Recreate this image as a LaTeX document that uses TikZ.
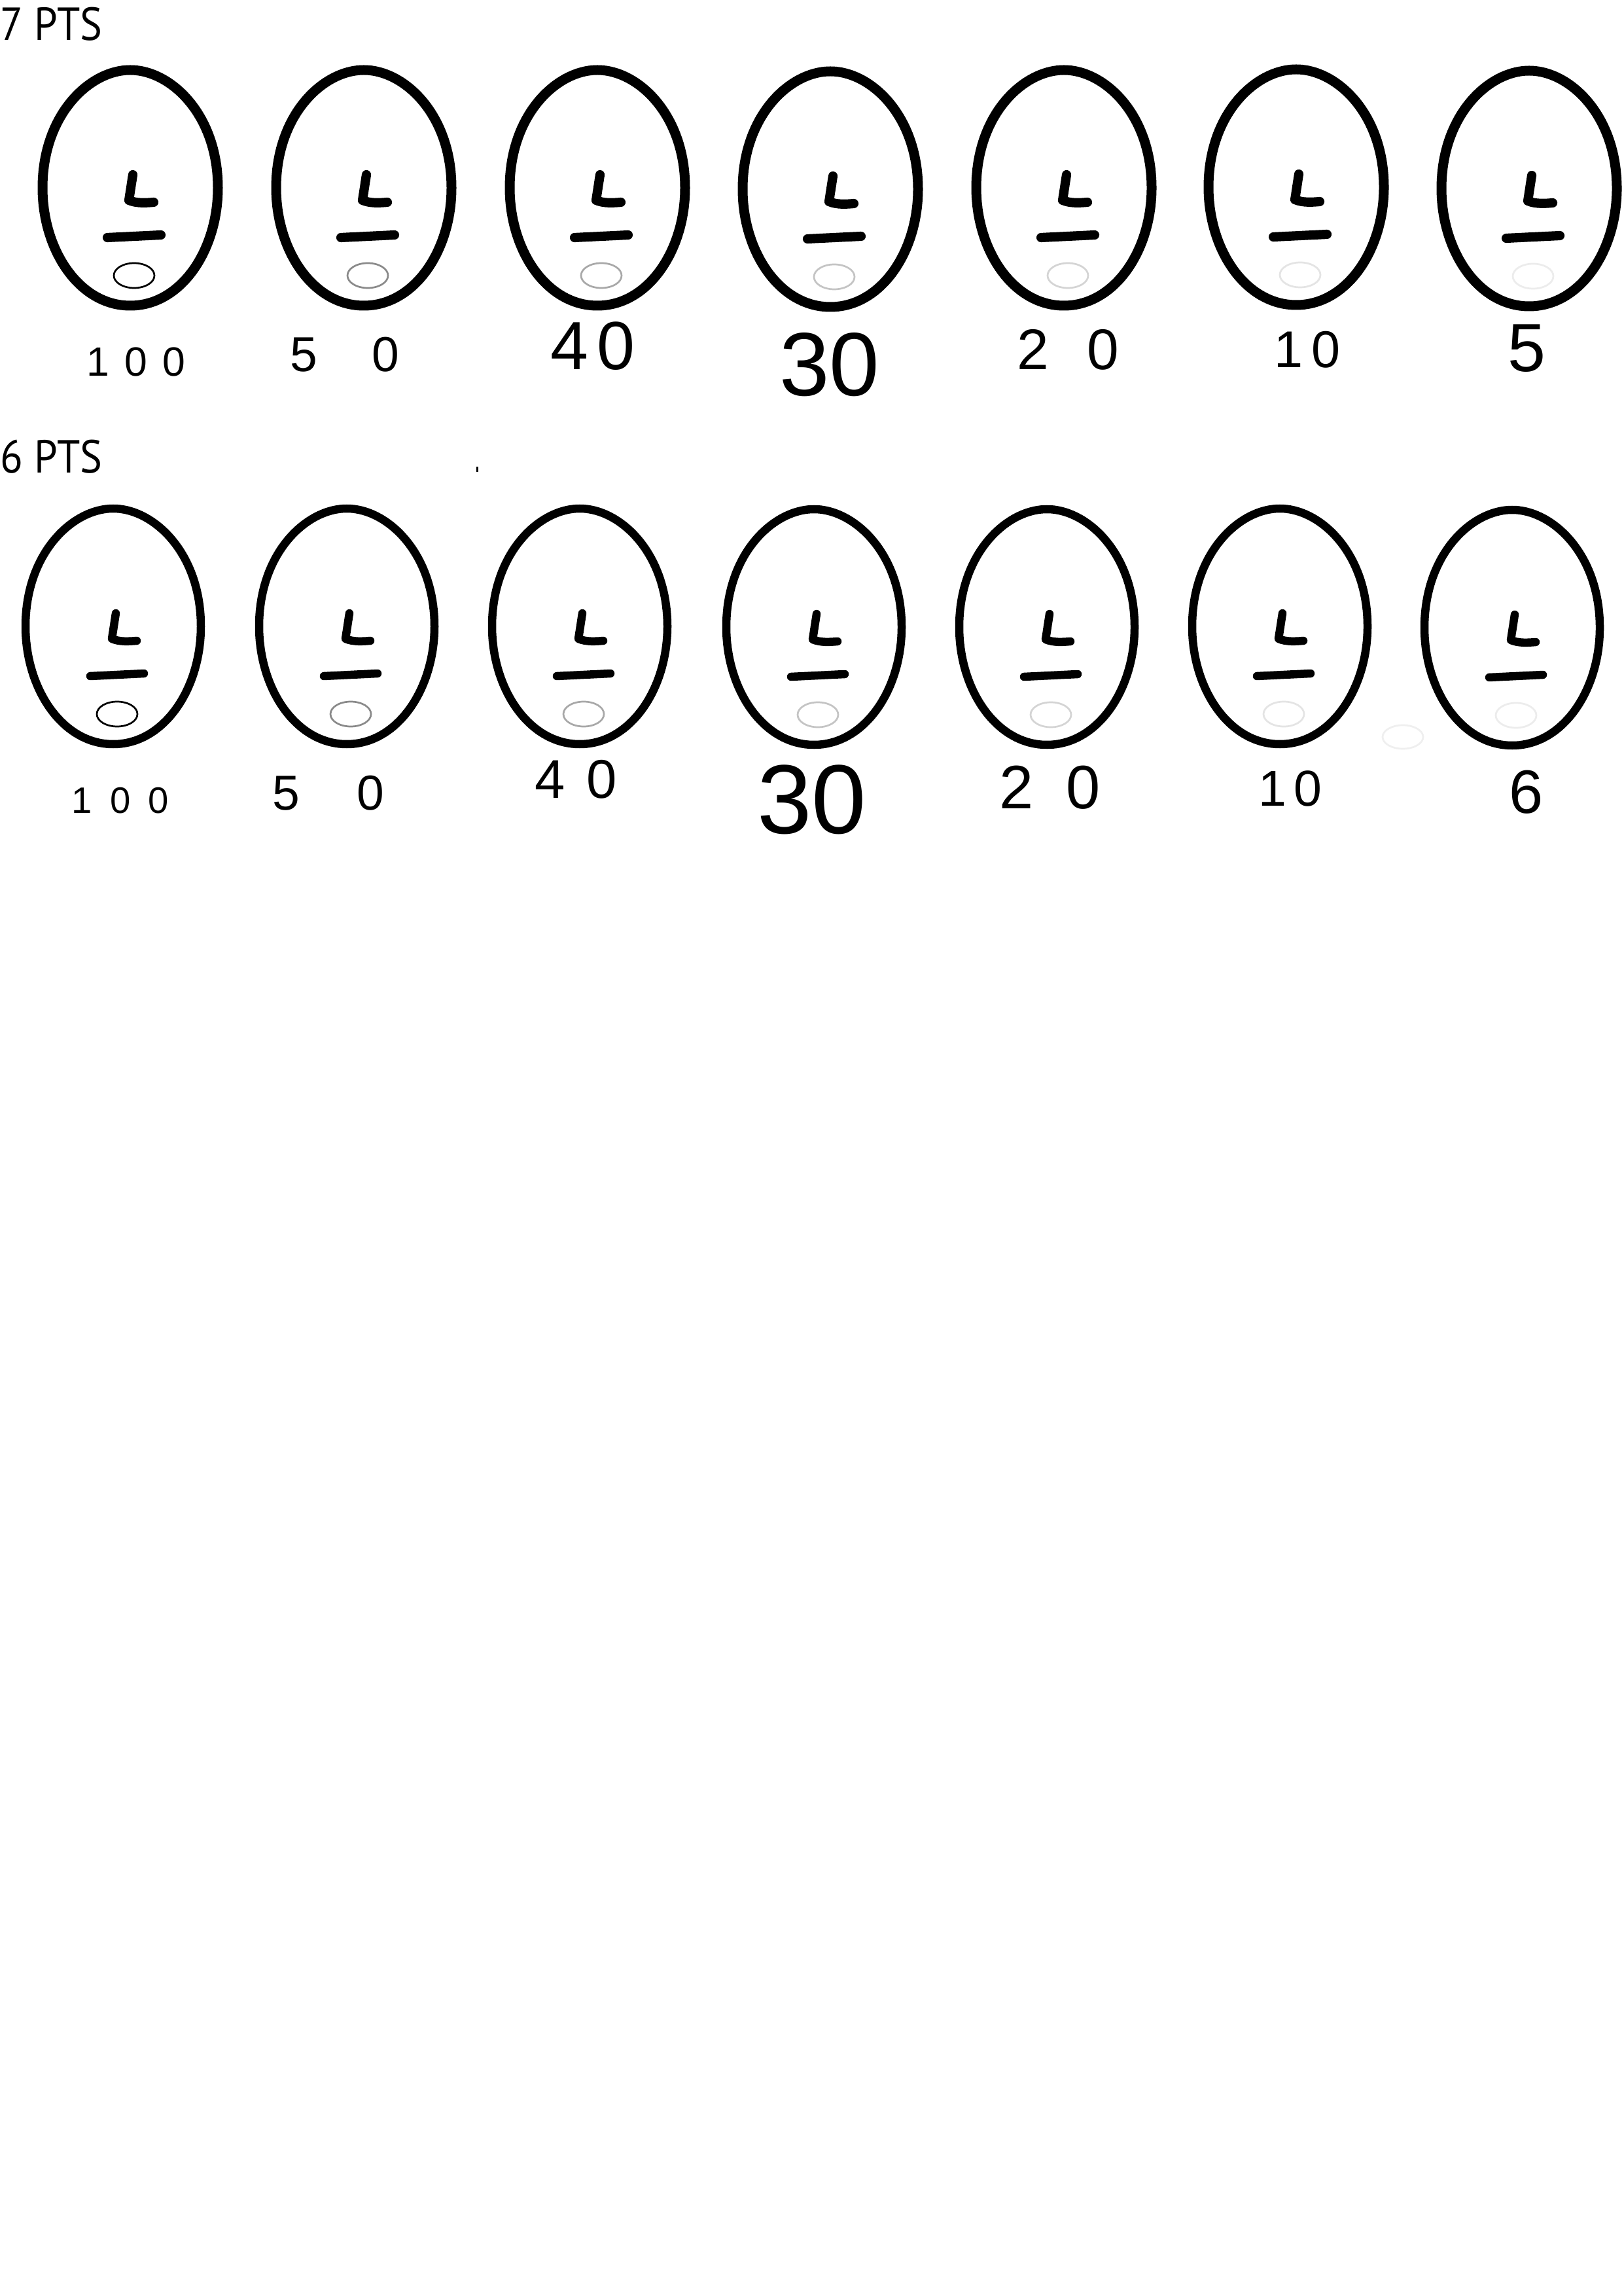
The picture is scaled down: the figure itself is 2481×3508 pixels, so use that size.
\documentclass[tikz,border=0pt]{standalone}
\usepackage{fontspec}
\setmainfont{PT Sans}
\newfontfamily\handfont{Liberation Sans}
\newcommand{\hw}[2]{{\handfont\fontsize{#1}{#1}\selectfont #2}}
\newcommand{\eggface}[5]{%
  \begin{scope}[shift={(#1,#2)}]
    \draw[line width=#3] (134,0) .. controls (134,-112) and (62,-180) .. (0,-180)
       .. controls (-62,-180) and (-134,-112) .. (-134,0)
       .. controls (-134,95) and (-78,180) .. (0,180)
       .. controls (78,180) and (134,95) .. (134,0) -- cycle;
    \draw[line width=#4, line cap=round, line join=round] (4,-20) -- (-2,19) .. controls (10,24) and (24,23) .. (36,22);
    \draw[line width=#4, line cap=round] (-35,76) -- (47,72);
    \draw[#5, line width=0.65pt] (6,134) ellipse [x radius=31, y radius=19];
  \end{scope}}
\definecolor{m50}{HTML}{8A8A8A}
\definecolor{m40}{HTML}{A8A8A8}
\definecolor{m30}{HTML}{C4C4C4}
\definecolor{m20}{HTML}{D4D4D4}
\definecolor{m10}{HTML}{E4E4E4}
\definecolor{m5}{HTML}{ECECEC}
\definecolor{mx}{HTML}{EFEFEF}
\begin{document}
\begin{tikzpicture}[x=0.24pt, y=-0.24pt,
  lbl/.style={inner sep=0pt, anchor=center},
  head/.style={inner sep=0pt, anchor=base west, font=\fontsize{17pt}{17pt}\selectfont}]
\fill[white] (0,0) rectangle (2481,3508);
\useasboundingbox (0,0) rectangle (2481,3508);

% headings
\node[head] (h7) at (0,62) {\scalebox{0.9}[1]{7 PTS}};
\node[head] (h6) at (0,723) {\scalebox{0.9}[1]{6 PTS}};
\fill (728,713) rectangle (731,721);

% row 1
\eggface{199}{287}{3.6pt}{3.4pt}{black}
\eggface{556}{287}{3.6pt}{3.4pt}{m50}
\eggface{913}{287}{3.6pt}{3.4pt}{m40}
\eggface{1269}{289}{3.6pt}{3.4pt}{m30}
\eggface{1626}{287}{3.6pt}{3.4pt}{m20}
\eggface{1981}{286}{3.6pt}{3.4pt}{m10}
\eggface{2337}{288}{3.6pt}{3.4pt}{m5}

% row 2
\eggface{173}{957}{3.0pt}{3.0pt}{black}
\eggface{530}{957}{3.0pt}{3.0pt}{m50}
\eggface{886}{957}{3.0pt}{3.0pt}{m40}
\eggface{1244}{958}{3.0pt}{3.0pt}{m30}
\eggface{1600}{958}{3.0pt}{3.0pt}{m20}
\eggface{1956}{957}{3.0pt}{3.0pt}{m10}
\eggface{2311}{959}{3.0pt}{3.0pt}{m5}
\draw[mx, line width=0.65pt] (2144,1126) ellipse [x radius=31, y radius=18];

% labels row 1
\node[lbl] (a1) at (208,553) {\hw{15pt}{1\kern5.5pt0\kern5.5pt0}};
\node[lbl] (a2) at (527,542) {\hw{18pt}{5\kern20pt0}};
\node[lbl] (a3) at (906,529) {\hw{25pt}{4\kern3pt0}};
\node[lbl] (a4) at (1268,557) {\hw{33pt}{30}};
\node[lbl] (a5) at (1632,534) {\hw{21pt}{2\kern14pt0}};
\node[lbl] (a6) at (1998,534) {\hw{19pt}{1\kern3pt0}};
\node[lbl] (a7) at (2333,532) {\hw{25pt}{5}};

% labels row 2
\node[lbl] (b1) at (184,1223) {\hw{13.5pt}{1\kern6.5pt0\kern6.5pt0}};
\node[lbl] (b2) at (502,1212) {\hw{18pt}{5\kern21pt0}};
\node[lbl] (b3) at (880,1191) {\hw{20pt}{4\kern8pt0}};
\node[lbl] (b4) at (1241,1222) {\hw{36pt}{30}};
\node[lbl] (b5) at (1605,1203) {\hw{22.5pt}{2\kern12pt0}};
\node[lbl] (b6) at (1972,1205) {\hw{18.5pt}{1\kern2.5pt0}};
\node[lbl] (b7) at (2333,1210) {\hw{22.5pt}{6}};
\end{tikzpicture}
\end{document}
